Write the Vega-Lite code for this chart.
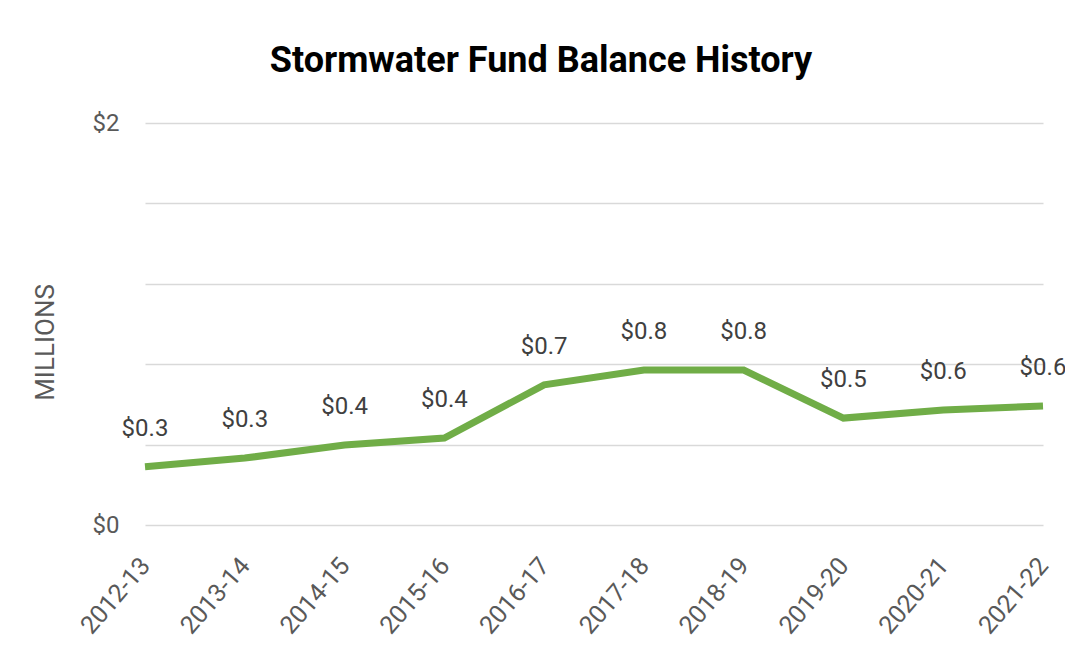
{
  "$schema": "https://vega.github.io/schema/vega-lite/v6.json",
  "autosize": "none",
  "width": 898,
  "height": 402,
  "padding": {"left": 145, "top": 123, "right": 22, "bottom": 124},
  "background": "white",
  "title": {
    "text": "Stormwater Fund Balance History",
    "font": "Roboto",
    "fontSize": 36,
    "fontWeight": "bold",
    "color": "#000000",
    "anchor": "middle",
    "dx": -53,
    "offset": 31
  },
  "data": {
    "values": [
      {"year": "2012-13", "balance": 0.29},
      {"year": "2013-14", "balance": 0.333},
      {"year": "2014-15", "balance": 0.398},
      {"year": "2015-16", "balance": 0.433},
      {"year": "2016-17", "balance": 0.697},
      {"year": "2017-18", "balance": 0.771},
      {"year": "2018-19", "balance": 0.771},
      {"year": "2019-20", "balance": 0.532},
      {"year": "2020-21", "balance": 0.572},
      {"year": "2021-22", "balance": 0.592}
    ]
  },
  "encoding": {
    "x": {
      "field": "year",
      "type": "ordinal",
      "scale": {"type": "point", "padding": 0},
      "axis": {
        "title": null,
        "labelAngle": -49,
        "labelAlign": "right",
        "labelBaseline": "middle",
        "labelFont": "Roboto",
        "labelFontSize": 25,
        "labelColor": "#595959",
        "labelPadding": 36,
        "ticks": false,
        "domain": false,
        "grid": false
      }
    },
    "y": {
      "field": "balance",
      "type": "quantitative",
      "scale": {"domain": [0, 2], "nice": false},
      "axis": {
        "title": "MILLIONS",
        "titleFont": "Roboto",
        "titleFontSize": 26,
        "titleFontWeight": "normal",
        "titleColor": "#595959",
        "titleX": -100,
        "titleY": 219,
        "titleAngle": -90,
        "titleAlign": "center",
        "titleBaseline": "middle",
        "values": [0, 0.4, 0.8, 1.2, 1.6, 2],
        "labelExpr": "datum.value == 0 ? '$0' : (datum.value == 2 ? '$2' : '')",
        "labelFont": "Roboto",
        "labelFontSize": 24,
        "labelColor": "#595959",
        "labelPadding": 26,
        "ticks": false,
        "domain": false,
        "grid": true,
        "gridColor": "#d9d9d9",
        "gridWidth": 1.5
      }
    }
  },
  "layer": [
    {
      "mark": {"type": "line", "color": "#70AD47", "strokeWidth": 7, "strokeJoin": "miter"}
    },
    {
      "mark": {
        "type": "text",
        "dy": -38,
        "font": "Roboto",
        "fontSize": 24,
        "color": "#404040",
        "baseline": "middle"
      },
      "encoding": {
        "text": {"field": "balance", "type": "quantitative", "format": "$.1f"}
      }
    }
  ],
  "config": {
    "view": {"stroke": null}
  }
}
